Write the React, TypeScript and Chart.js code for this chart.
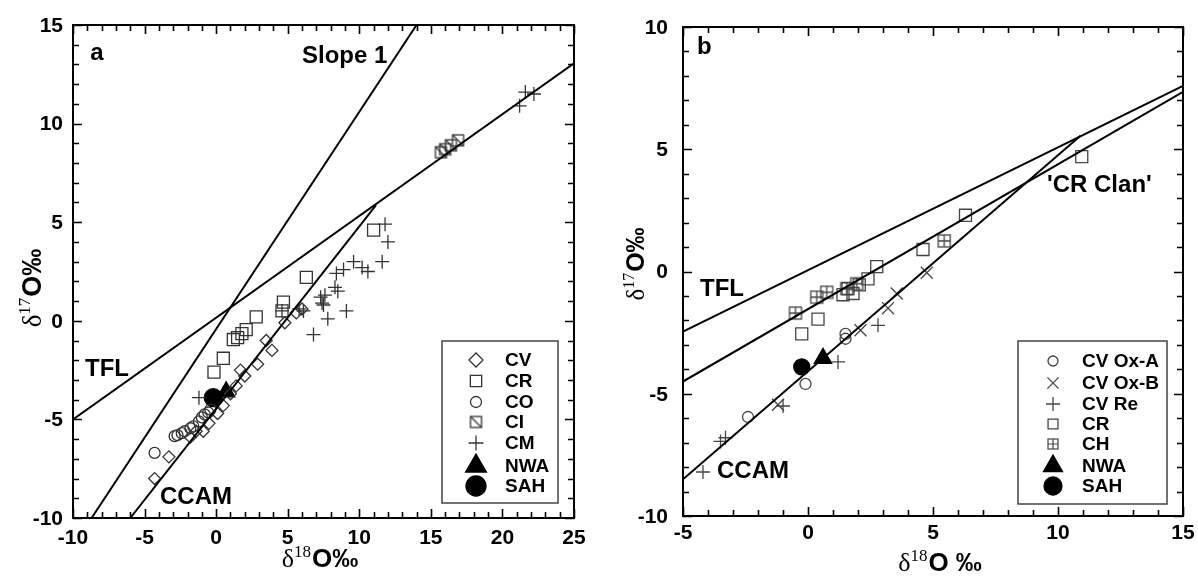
import React, { useEffect, useRef } from 'react';
import { Chart, registerables } from 'chart.js';
import { drawPoint } from 'chart.js/helpers';

Chart.register(...registerables);

type Pt = [number, number];

// ---------------- Panel a data ----------------
const aCV: Pt[] = [[-4.3, -8.0], [-3.3, -6.9], [-1.8, -5.9], [-1.4, -5.6], [-0.9, -5.6], [-0.5, -5.2], [0.1, -4.7], [0.5, -4.3], [1.0, -3.7], [1.4, -3.3], [1.7, -2.5], [2.0, -2.8], [2.9, -2.2], [3.5, -1.0], [3.9, -1.5], [4.8, -0.1], [5.6, 0.4], [6.0, 0.6]];
const aCR: Pt[] = [[-0.15, -2.6], [0.5, -1.9], [1.2, -0.95], [1.5, -0.85], [1.8, -0.65], [2.1, -0.45], [2.8, 0.2], [4.6, 0.5], [4.7, 0.95], [6.3, 2.2], [11.0, 4.6]];
const aCO: Pt[] = [[-4.3, -6.7], [-2.9, -5.85], [-2.7, -5.8], [-2.4, -5.7], [-2.2, -5.6], [-1.8, -5.45], [-1.6, -5.35], [-1.2, -5.1], [-1.0, -4.9], [-0.8, -4.75], [-0.55, -4.65], [-0.4, -4.5]];
const aCI: Pt[] = [[15.7, 8.55], [16.0, 8.7], [16.4, 8.9], [16.9, 9.15]];
const aCM: Pt[] = [[-1.2, -3.9], [4.6, 0.5], [5.8, 0.6], [6.1, 0.5], [6.8, -0.7], [7.3, 1.2], [7.4, 0.9], [7.5, 0.8], [7.6, 1.3], [7.8, 0.1], [8.3, 1.7], [8.4, 2.4], [8.5, 1.5], [8.9, 2.6], [9.1, 0.5], [9.6, 3.0], [10.2, 2.7], [10.6, 2.5], [11.6, 3.0], [11.8, 4.9], [12.0, 4.0], [21.2, 10.9], [21.6, 11.6], [22.2, 11.5]];
const aNWA: Pt[] = [[0.7, -3.6]];
const aSAH: Pt[] = [[-0.2, -3.9]];
const aTFL: Pt[] = [[-10, -5.0], [25, 13.06]];
const aSlope1: Pt[] = [[-8.7, -10], [14.0, 15]];
const aCCAM: Pt[] = [[-6.0, -10], [11.17, 5.87]];
const aXTicks = [-10, -5, 0, 5, 10, 15, 20, 25];
const aYTicks = [-10, -5, 0, 5, 10, 15];

// ---------------- Panel b data ----------------
const bCVOxA: Pt[] = [[-2.4, -5.95], [-0.1, -4.6], [1.5, -2.55], [1.5, -2.75]];
const bCVOxB: Pt[] = [[-1.2, -5.45], [2.1, -2.4], [3.2, -1.5], [3.55, -0.9], [4.75, -0.05]];
const bCVRe: Pt[] = [[-4.2, -8.2], [-3.5, -6.95], [-3.3, -6.8], [-1.0, -5.5], [1.2, -3.7], [2.8, -2.2]];
const bCR: Pt[] = [[-0.25, -2.55], [0.4, -1.95], [1.4, -0.95], [1.6, -0.7], [1.8, -0.9], [2.05, -0.55], [2.4, -0.3], [2.75, 0.2], [4.6, 0.9], [6.3, 2.3], [10.95, 4.7]];
const bCH: Pt[] = [[-0.5, -1.7], [0.35, -1.05], [0.75, -0.85], [1.55, -0.7], [1.95, -0.5], [5.45, 1.25]];
const bNWA: Pt[] = [[0.6, -3.55]];
const bSAH: Pt[] = [[-0.25, -3.9]];
const bTFL: Pt[] = [[-5, -2.46], [15, 7.59]];
const bCRLine: Pt[] = [[-5, -4.5], [15, 7.35]];
const bCCAM: Pt[] = [[-5, -8.5], [10.9, 5.55]];
const bXTicks = [-5, 0, 5, 10, 15];
const bYTicks = [-10, -5, 0, 5, 10];

const SANS = '"Liberation Sans", Arial, Helvetica, sans-serif';
const SERIF = '"Liberation Serif", "Times New Roman", serif';

const toXY = (a: Pt[]) => a.map(([x, y]) => ({ x, y }));

function boxMarker(kind: 'ci' | 'ch', half: number, color: string, lw: number) {
  const s = Math.ceil(2 * half + lw + 2);
  const c = document.createElement('canvas');
  c.width = s;
  c.height = s;
  const g = c.getContext('2d')!;
  const o = (s - 2 * half) / 2;
  g.strokeStyle = color;
  g.lineWidth = lw;
  g.strokeRect(o, o, 2 * half, 2 * half);
  g.beginPath();
  if (kind === 'ci') {
    g.moveTo(o, o);
    g.lineTo(o + 2 * half, o + 2 * half);
  } else {
    g.moveTo(s / 2, o);
    g.lineTo(s / 2, o + 2 * half);
    g.moveTo(o, s / 2);
    g.lineTo(o + 2 * half, s / 2);
  }
  g.stroke();
  return c;
}

interface Series {
  label: string;
  data: Pt[];
  style: any;
  radius: number;
  fill: boolean;
  legendRadius: number;
  legendStyle?: any;
}

interface TextSpec { text: string; x: number; y: number; }

interface PanelSpec {
  width: number;
  height: number;
  pad: { left: number; top: number; right: number; bottom: number };
  xMin: number; xMax: number; yMin: number; yMax: number;
  xTicks: number[]; yTicks: number[];
  series: Series[];
  lines: Pt[][];
  texts: TextSpec[];
  legend: { left: number; top: number; right: number; bottom: number; markerX: number; textX: number; rows: number[] };
  xTitle: { cx: number; cy: number; sup: string; tail: string; size: number };
  yTitle: { cx: number; cy: number; sup: string; tail: string; size: number };
  color: string;
  tickFont: number;
  yLabelGap: number;
  xLabelY: number;
}

function drawDeltaTitle(ctx: CanvasRenderingContext2D, cx: number, cy: number, sup: string, tail: string, size: number, rotate: boolean) {
  ctx.save();
  ctx.translate(cx, cy);
  if (rotate) ctx.rotate(-Math.PI / 2);
  const fD = `${size}px ${SERIF}`;
  const fS = `${Math.round(size * 0.64)}px ${SERIF}`;
  const fT = `bold ${size}px ${SANS}`;
  ctx.font = fD;
  const wD = ctx.measureText('δ').width;
  ctx.font = fS;
  const wS = ctx.measureText(sup).width;
  ctx.font = fT;
  const wT = ctx.measureText(tail).width;
  const total = wD + wS + 1 + wT;
  let x = -total / 2;
  ctx.textBaseline = 'alphabetic';
  ctx.textAlign = 'left';
  ctx.fillStyle = '#000';
  const base = size * 0.36;
  ctx.font = fD;
  ctx.fillText('δ', x, base);
  x += wD;
  ctx.font = fS;
  ctx.fillText(sup, x, base - size * 0.4);
  x += wS + 1;
  ctx.font = fT;
  ctx.fillText(tail, x, base);
  ctx.restore();
}

const decorPlugin = {
  id: 'decor',
  afterDatasetsDraw(chart: any, _args: any, opts: any) {
    const spec: PanelSpec = opts.spec;
    const ctx: CanvasRenderingContext2D = chart.ctx;
    const xs = chart.scales.x;
    const ys = chart.scales.y;
    const { left, right, top, bottom } = chart.chartArea;
    ctx.save();
    ctx.strokeStyle = '#000';
    ctx.fillStyle = '#000';
    // ticks (inward, all four sides)
    ctx.lineWidth = 1.6;
    ctx.beginPath();
    for (let v = spec.xMin; v <= spec.xMax + 1e-9; v += 1) {
      const px = Math.round(xs.getPixelForValue(v)) + 0.5;
      const len = Math.abs(v % 5) < 1e-9 ? 9 : 6;
      ctx.moveTo(px, bottom);
      ctx.lineTo(px, bottom - len);
      ctx.moveTo(px, top);
      ctx.lineTo(px, top + len);
    }
    for (let v = spec.yMin; v <= spec.yMax + 1e-9; v += 1) {
      const py = Math.round(ys.getPixelForValue(v)) + 0.5;
      const len = Math.abs(v % 5) < 1e-9 ? 9 : 6;
      ctx.moveTo(left, py);
      ctx.lineTo(left + len, py);
      ctx.moveTo(right, py);
      ctx.lineTo(right - len, py);
    }
    ctx.stroke();
    // frame
    ctx.lineWidth = 2;
    ctx.strokeRect(left, top, right - left, bottom - top);
    // tick labels
    ctx.font = `bold ${spec.tickFont}px ${SANS}`;
    ctx.textAlign = 'center';
    ctx.textBaseline = 'middle';
    spec.xTicks.forEach((v) => {
      ctx.fillText(String(v), xs.getPixelForValue(v), spec.xLabelY);
    });
    ctx.textAlign = 'right';
    spec.yTicks.forEach((v) => {
      ctx.fillText(String(v), left - spec.yLabelGap, ys.getPixelForValue(v) + 1);
    });
    // axis titles
    drawDeltaTitle(ctx, spec.xTitle.cx, spec.xTitle.cy, spec.xTitle.sup, spec.xTitle.tail, spec.xTitle.size, false);
    drawDeltaTitle(ctx, spec.yTitle.cx, spec.yTitle.cy, spec.yTitle.sup, spec.yTitle.tail, spec.yTitle.size, true);
    // annotations
    ctx.font = `bold 24px ${SANS}`;
    ctx.textAlign = 'left';
    ctx.textBaseline = 'middle';
    spec.texts.forEach((t) => {
      ctx.fillText(t.text, xs.getPixelForValue(t.x), ys.getPixelForValue(t.y));
    });
    // legend
    const lg = spec.legend;
    ctx.fillStyle = '#fff';
    ctx.fillRect(lg.left, lg.top, lg.right - lg.left, lg.bottom - lg.top);
    ctx.strokeStyle = '#444';
    ctx.lineWidth = 1.5;
    ctx.strokeRect(lg.left, lg.top, lg.right - lg.left, lg.bottom - lg.top);
    ctx.font = `bold 19px ${SANS}`;
    ctx.textAlign = 'left';
    ctx.textBaseline = 'middle';
    spec.series.forEach((s, i) => {
      const y = lg.rows[i];
      ctx.strokeStyle = s.fill ? '#000' : spec.color;
      ctx.fillStyle = s.fill ? '#000' : 'rgba(0,0,0,0)';
      ctx.lineWidth = 1.3;
      drawPoint(ctx, { pointStyle: s.legendStyle || s.style, radius: s.legendRadius, borderWidth: 1.3, rotation: 0 } as any, lg.markerX, y);
      ctx.fillStyle = '#000';
      ctx.fillText(s.label, lg.textX, y + 1);
    });
    ctx.restore();
  },
};

function buildConfig(spec: PanelSpec): any {
  const datasets: any[] = [];
  spec.lines.forEach((ln) => {
    datasets.push({
      data: toXY(ln),
      showLine: true,
      borderColor: '#000',
      borderWidth: 2,
      pointRadius: 0,
      fill: false,
    });
  });
  spec.series.forEach((s) => {
    datasets.push({
      label: s.label,
      data: toXY(s.data),
      showLine: false,
      pointStyle: s.style,
      pointRadius: s.radius,
      pointBorderWidth: 1.3,
      pointBorderColor: s.fill ? '#000' : spec.color,
      pointBackgroundColor: s.fill ? '#000' : 'rgba(0,0,0,0)',
    });
  });
  return {
    type: 'scatter',
    data: { datasets },
    options: {
      animation: false,
      responsive: false,
      devicePixelRatio: 1,
      events: [],
      layout: { padding: spec.pad },
      plugins: {
        legend: { display: false },
        tooltip: { enabled: false },
        decor: { spec },
      },
      scales: {
        x: { type: 'linear', min: spec.xMin, max: spec.xMax, display: false },
        y: { type: 'linear', min: spec.yMin, max: spec.yMax, display: false },
      },
    },
    plugins: [decorPlugin],
  };
}

function Panel({ make, left, width, height }: { make: () => PanelSpec; left: number; width: number; height: number }) {
  const ref = useRef<HTMLCanvasElement>(null);
  useEffect(() => {
    if (!ref.current) return;
    const chart = new Chart(ref.current, buildConfig(make()));
    return () => chart.destroy();
  }, []);
  return (
    <canvas
      ref={ref}
      width={width}
      height={height}
      style={{ position: 'absolute', left, top: 0, width, height }}
    />
  );
}

const colA = '#333';
const colB = '#444';

function makeA(): PanelSpec {
  return {
    width: 600,
    height: 579,
    pad: { left: 73, top: 25, right: 26, bottom: 61 },
    xMin: -10, xMax: 25, yMin: -10, yMax: 15,
    xTicks: aXTicks, yTicks: aYTicks,
    lines: [aTFL, aSlope1, aCCAM],
    series: [
      { label: 'CV', data: aCV, style: 'rectRot', radius: 6, fill: false, legendRadius: 7 },
      { label: 'CR', data: aCR, style: 'rect', radius: 8.5, fill: false, legendRadius: 8 },
      { label: 'CO', data: aCO, style: 'circle', radius: 5.5, fill: false, legendRadius: 5.5 },
      { label: 'CI', data: aCI, style: boxMarker('ci', 5.5, colA, 1.3), radius: 6, fill: false, legendRadius: 6 },
      { label: 'CM', data: aCM, style: 'cross', radius: 7, fill: false, legendRadius: 7.5 },
      { label: 'NWA', data: aNWA, style: 'triangle', radius: 10, fill: true, legendRadius: 12 },
      { label: 'SAH', data: aSAH, style: 'circle', radius: 9, fill: true, legendRadius: 10 },
    ],
    texts: [
      { text: 'a', x: -8.8, y: 13.58 },
      { text: 'Slope 1', x: 6.0, y: 13.43 },
      { text: 'TFL', x: -9.16, y: -2.44 },
      { text: 'CCAM', x: -3.92, y: -8.94 },
    ],
    legend: { left: 442, top: 341, right: 558, bottom: 503, markerX: 476, textX: 505, rows: [360, 381, 402, 422, 443, 466, 486] },
    xTitle: { cx: 320, cy: 558, sup: '18', tail: 'O‰', size: 26 },
    yTitle: { cx: 31, cy: 288, sup: '17', tail: 'O‰', size: 27 },
    color: colA,
    tickFont: 21,
    yLabelGap: 10,
    xLabelY: 538,
  };
}

function makeB(): PanelSpec {
  return {
    width: 598,
    height: 579,
    pad: { left: 83, top: 27, right: 15, bottom: 63 },
    xMin: -5, xMax: 15, yMin: -10, yMax: 10,
    xTicks: bXTicks, yTicks: bYTicks,
    lines: [bTFL, bCRLine, bCCAM],
    series: [
      { label: 'CV Ox-A', data: bCVOxA, style: 'circle', radius: 5.5, fill: false, legendRadius: 5 },
      { label: 'CV Ox-B', data: bCVOxB, style: 'crossRot', radius: 8.5, fill: false, legendRadius: 8 },
      { label: 'CV Re', data: bCVRe, style: 'cross', radius: 7, fill: false, legendRadius: 7 },
      { label: 'CR', data: bCR, style: 'rect', radius: 8.5, fill: false, legendRadius: 7 },
      { label: 'CH', data: bCH, style: boxMarker('ch', 6, colB, 1.3), radius: 6, fill: false, legendRadius: 5, legendStyle: boxMarker('ch', 5, colB, 1.2) },
      { label: 'NWA', data: bNWA, style: 'triangle', radius: 10, fill: true, legendRadius: 11 },
      { label: 'SAH', data: bSAH, style: 'circle', radius: 8, fill: true, legendRadius: 9 },
    ],
    texts: [
      { text: 'b', x: -4.44, y: 9.18 },
      { text: 'TFL', x: -4.32, y: -0.72 },
      { text: "'CR Clan'", x: 9.56, y: 3.54 },
      { text: 'CCAM', x: -3.64, y: -8.16 },
    ],
    legend: { left: 418, top: 341, right: 567, bottom: 504, markerX: 453, textX: 482, rows: [361, 383, 404, 424, 444, 466, 486] },
    xTitle: { cx: 340, cy: 562, sup: '18', tail: 'O ‰', size: 26 },
    yTitle: { cx: 35, cy: 264, sup: '17', tail: 'O‰', size: 25 },
    color: colB,
    tickFont: 21,
    yLabelGap: 15,
    xLabelY: 533,
  };
}

export default function App() {
  return (
    <div style={{ position: 'fixed', left: 0, top: 0, width: 1198, height: 579, background: '#fff', overflow: 'hidden' }}>
      <Panel make={makeA} left={0} width={600} height={579} />
      <Panel make={makeB} left={600} width={598} height={579} />
    </div>
  );
}
